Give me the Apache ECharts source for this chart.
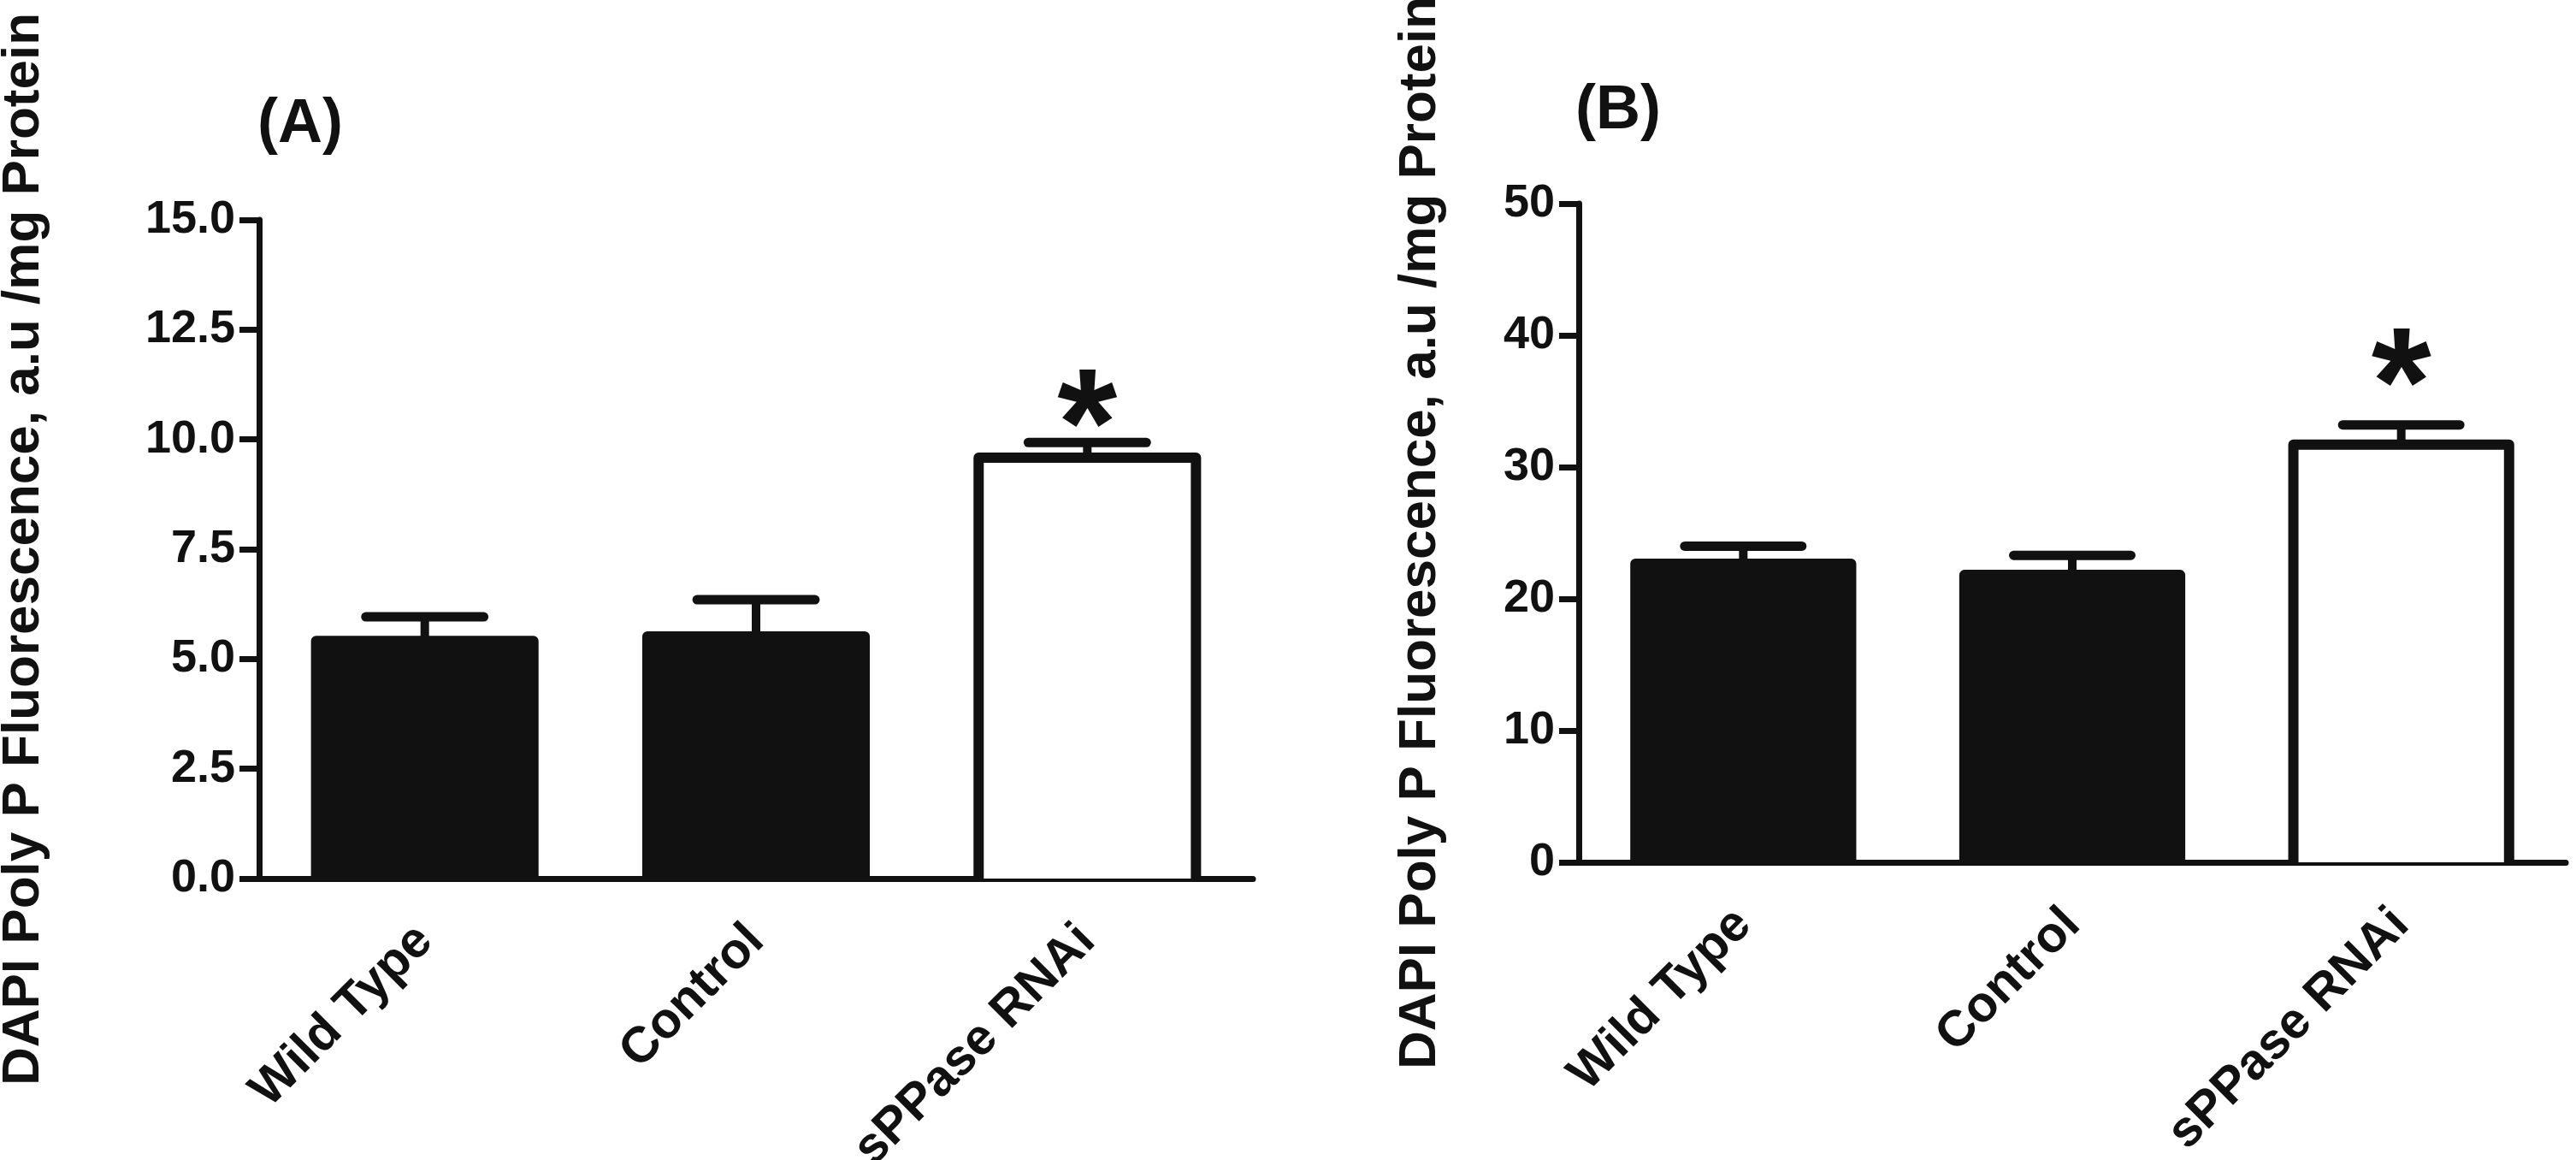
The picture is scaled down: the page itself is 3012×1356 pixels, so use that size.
<!DOCTYPE html>
<html>
<head>
<meta charset="utf-8">
<script src="https://cdn.jsdelivr.net/npm/echarts@6/dist/echarts.min.js"></script>
<style>
html,body{margin:0;padding:0;background:#fff;}
#chart{width:3012px;height:1356px;}
</style>
</head>
<body>
<div id="chart"></div>
<script>
// ---- data ----
const categories = ['Wild Type', 'Control', 'sPPase RNAi'];
const meanA = [5.53, 5.63, 9.70];
const semA  = [0.43, 0.72, 0.23];
const meanB = [23.05, 22.2, 32.1];
const semB  = [0.95, 1.1, 1.1];
const starA = [null, null, 10.95];
const starB = [null, null, 38.4];
const yTicksA = [0, 2.5, 5, 7.5, 10, 12.5, 15];
const yTicksB = [0, 10, 20, 30, 40, 50];
const barFill = ['#111111', '#111111', '#ffffff'];
const panelTitles = ['(A)', '(B)'];
const yTitle = 'DAPI Poly P Fluorescence, a.u /mg Protein';

// ---- styling ----
const FONT = '"Liberation Sans", Arial, Helvetica, sans-serif';
const INK = '#111111';
const BORDER = 12;

function barSeries(mean, idx) {
  return {
    type: 'custom', name: 'bars', xAxisIndex: idx, yAxisIndex: idx, z: 2,
    data: mean.map((v, i) => [i, v]),
    encode: { x: 0, y: 1 },
    renderItem: function (params, api) {
      const i = api.value(0), v = api.value(1);
      const base = api.coord([i, 0]);
      const top = api.coord([i, v]);
      const w = api.size([1, 0])[0] * 0.687;
      const x0 = base[0] - w / 2, x1 = base[0] + w / 2;
      const h = BORDER / 2;
      return {
        type: 'group',
        children: [
          { type: 'rect',
            shape: { x: x0 + h, y: top[1] + h, width: w - 2 * h, height: base[1] - top[1] - h },
            style: { fill: barFill[params.dataIndex] } },
          { type: 'polyline',
            shape: { points: [[x0 + h, base[1]], [x0 + h, top[1] + h], [x1 - h, top[1] + h], [x1 - h, base[1]]] },
            style: { stroke: INK, lineWidth: BORDER, lineJoin: 'round', fill: null } }
        ]
      };
    }
  };
}
function errSeries(mean, sem, idx) {
  return {
    type: 'custom', name: 'sem', xAxisIndex: idx, yAxisIndex: idx, z: 5,
    data: mean.map((v, i) => [i, v, sem[i]]),
    encode: { x: 0, y: 1 },
    renderItem: function (params, api) {
      const i = api.value(0), m = api.value(1), e = api.value(2);
      const base = api.coord([i, m]);
      const top = api.coord([i, m + e]);
      const band = api.size([1, 0])[0];
      const half = band * 0.178;
      return {
        type: 'group',
        children: [
          { type: 'line', shape: { x1: base[0], y1: base[1] + BORDER / 2, x2: top[0], y2: top[1] },
            style: { stroke: INK, lineWidth: 10, lineCap: 'butt' } },
          { type: 'line', shape: { x1: top[0] - half, y1: top[1], x2: top[0] + half, y2: top[1] },
            style: { stroke: INK, lineWidth: 11, lineCap: 'round' } }
        ]
      };
    }
  };
}
function starSeries(stars, idx) {
  const data = [];
  stars.forEach((s, i) => { if (s != null) data.push([i, s]); });
  return {
    type: 'custom', name: 'sig', xAxisIndex: idx, yAxisIndex: idx, z: 6,
    data: data, encode: { x: 0, y: 1 },
    renderItem: function (params, api) {
      const p = api.coord([api.value(0), api.value(1)]);
      const fs = 180;
      return {
        type: 'text',
        style: { text: '*', x: p[0], y: p[1] + fs * 0.23, fill: INK,
                 font: 'bold ' + fs + 'px ' + FONT, align: 'center', verticalAlign: 'middle' }
      };
    }
  };
}
function xAxisCfg(idx) {
  return {
    type: 'category', gridIndex: idx, data: categories,
    axisLine: { lineStyle: { color: INK, width: 7 } },
    axisTick: { alignWithLabel: true, length: 23, lineStyle: { color: INK, width: 7 } },
    axisLabel: { interval: 0, rotate: 45, margin: 64, color: INK, fontSize: 59,
                 fontWeight: 'bold', fontFamily: FONT }
  };
}
function yAxisCfg(idx, ticks, decimals, gap) {
  const step = ticks[1] - ticks[0];
  return {
    type: 'value', gridIndex: idx,
    min: ticks[0], max: ticks[ticks.length - 1], interval: step,
    name: yTitle, nameLocation: 'middle', nameGap: gap, nameRotate: 90,
    nameTextStyle: { color: INK, fontSize: 62, fontWeight: 'bold', fontFamily: FONT },
    axisLine: { show: true, lineStyle: { color: INK, width: 7 } },
    axisTick: { show: true, length: 23, lineStyle: { color: INK, width: 7 } },
    splitLine: { show: false },
    axisLabel: { margin: 28, color: INK, fontSize: 54, fontWeight: 'bold', fontFamily: FONT,
                 formatter: v => v.toFixed(decimals) }
  };
}

const option = {
  animation: false,
  backgroundColor: '#ffffff',
  title: [
    { text: panelTitles[0], left: 296, top: 105,
      textStyle: { color: INK, fontSize: 72, fontWeight: 'bold', fontFamily: FONT } },
    { text: panelTitles[1], left: 1837, top: 89,
      textStyle: { color: INK, fontSize: 72, fontWeight: 'bold', fontFamily: FONT } }
  ],
  grid: [
    { left: 303, top: 257, width: 1162, height: 770, containLabel: false, outerBoundsMode: 'none' },
    { left: 1846, top: 238, width: 1154, height: 770, containLabel: false, outerBoundsMode: 'none' }
  ],
  xAxis: [xAxisCfg(0), xAxisCfg(1)],
  yAxis: [yAxisCfg(0, yTicksA, 1, 244), yAxisCfg(1, yTicksB, 0, 154)],
  series: [
    barSeries(meanA, 0), errSeries(meanA, semA, 0), starSeries(starA, 0),
    barSeries(meanB, 1), errSeries(meanB, semB, 1), starSeries(starB, 1)
  ]
};

const chart = echarts.init(document.getElementById('chart'), null, { renderer: 'canvas' });
chart.setOption(option);
</script>
</body>
</html>
